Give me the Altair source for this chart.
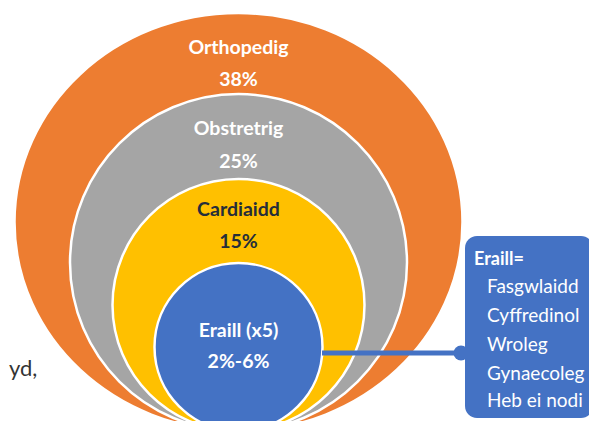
import altair as alt
import pandas as pd

# ---- content -------------------------------------------------------------
categories = ["Orthopedig", "Obstretrig", "Cardiaidd", "Eraill (x5)"]
shares = ["38%", "25%", "15%", "2%-6%"]
fill_colors = ["#ED7D31", "#A5A5A5", "#FFC000", "#4472C4"]
label_colors = ["#FFFFFF", "#FFFFFF", "#252D3A", "#FFFFFF"]
others_title = "Eraill="
others_list = ["Fasgwlaidd", "Cyffredinol", "Wroleg", "Gynaecoleg", "Heb ei nodi"]
side_text = "yd,"

# ---- layout (page pixel coordinates) ---------------------------------------
CX = 238.5
BOTTOM = 431
half_w = [224, 168.5, 126, 84]
half_h = [209, 168.5, 126, 84]
label_base = [53.5, 135, 215.7, 336.7]
value_base = [85.7, 167.7, 248.3, 368.3]
BOX = dict(x0=465, x1=593, y0=236, y1=418)
LINE_Y = 353
LINE_X = (322, 462)
title_pos = (474, 265)
list_x = 487
list_base = [293.3, 321.7, 350.7, 380, 406.7]

W, H = 581, 413
XS = alt.Scale(domain=[8, 8 + W], nice=False, zero=False)
YS = alt.Scale(domain=[8 + H, 8], nice=False, zero=False)

def X(f):
    return alt.X(f, type="quantitative", scale=XS, axis=None)

def Y(f):
    return alt.Y(f, type="quantitative", scale=YS, axis=None)

shape_rows = []
for c, col, hw, hh in zip(categories, fill_colors, half_w, half_h):
    k = hh / hw
    path = f"M -1 0 A 1 {k:.4f} 0 1 1 1 0 A 1 {k:.4f} 0 1 1 -1 0 Z"
    shape_rows.append(dict(cat=c, x=CX, y=BOTTOM - hh, shape=path,
                           size=(2 * hw) ** 2, color=col))
shapes_df = pd.DataFrame(shape_rows)

shapes = alt.Chart(shapes_df).mark_point(
    filled=True, opacity=1, stroke="white", strokeWidth=2.5
).encode(
    x=X("x"), y=Y("y"),
    shape=alt.Shape("shape:N", scale=None),
    size=alt.Size("size:Q", scale=None),
    fill=alt.Fill("color:N", scale=None),
)

lab_rows = []
for c, s, lc, lb, vb in zip(categories, shares, label_colors, label_base, value_base):
    lab_rows.append(dict(t=c, x=CX, y=lb, color=lc))
    lab_rows.append(dict(t=s, x=CX, y=vb, color=lc))
labels = alt.Chart(pd.DataFrame(lab_rows)).mark_text(
    align="center", baseline="alphabetic", font="Lato", fontSize=19.5, fontWeight="bold"
).encode(
    x=X("x"), y=Y("y"), text="t:N", color=alt.Color("color:N", scale=None)
)

line = alt.Chart(pd.DataFrame([dict(x=LINE_X[0], x2=LINE_X[1], y=LINE_Y)])).mark_rule(
    color="#4472C4", strokeWidth=5
).encode(x=X("x"), x2="x2", y=Y("y"))

knob = alt.Chart(pd.DataFrame([dict(x=461, y=LINE_Y)])).mark_point(
    filled=True, opacity=1, color="#4472C4", shape="circle", size=15 ** 2
).encode(x=X("x"), y=Y("y"))

box = alt.Chart(pd.DataFrame([BOX])).mark_rect(
    color="#4472C4", cornerRadius=12
).encode(x=X("x0"), x2="x1", y=Y("y0"), y2="y1")

title = alt.Chart(pd.DataFrame([dict(t=others_title, x=title_pos[0], y=title_pos[1])])).mark_text(
    align="left", baseline="alphabetic", font="Lato", fontSize=18, fontWeight="bold", color="white"
).encode(x=X("x"), y=Y("y"), text="t:N")

lst = alt.Chart(pd.DataFrame(dict(t=others_list, x=[list_x] * len(others_list), y=list_base))).mark_text(
    align="left", baseline="alphabetic", font="Lato", fontSize=19, color="white"
).encode(x=X("x"), y=Y("y"), text="t:N")

side = alt.Chart(pd.DataFrame([dict(t=side_text, x=9, y=376)])).mark_text(
    align="left", baseline="alphabetic", font="Lato", fontSize=22, color="#333333"
).encode(x=X("x"), y=Y("y"), text="t:N")

chart = alt.layer(shapes, labels, line, knob, box, title, lst, side).properties(
    width=W, height=H, padding=0,
    autosize=alt.AutoSizeParams(type="none"),
    background="white",
).configure_view(stroke=None)

chart.save("out.html", embed_options={"renderer": "svg", "actions": False})
